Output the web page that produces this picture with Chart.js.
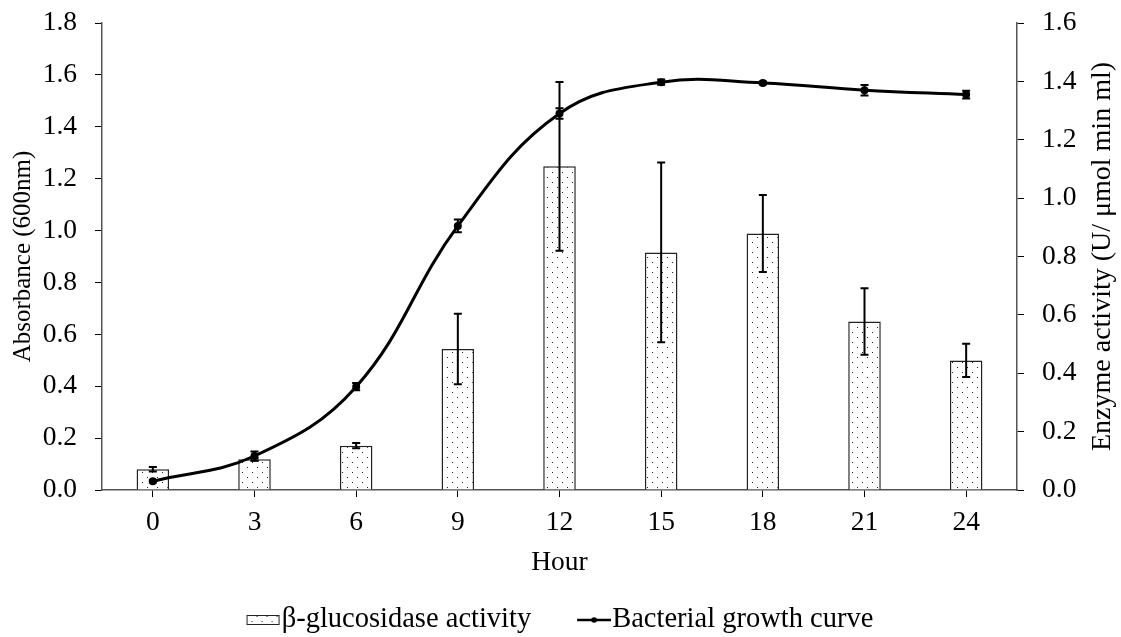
<!DOCTYPE html>
<html>
<head>
<meta charset="utf-8">
<script src="https://cdn.jsdelivr.net/npm/chart.js@4/dist/chart.umd.min.js"></script>
<style>body{margin:0;background:#fff}</style>
</head>
<body>
<canvas id="myChart" width="1121" height="637"></canvas>
<script>
// values
var hours = ['0', '3', '6', '9', '12', '15', '18', '21', '24'];
var enzymeActivity = [0.071, 0.105, 0.152, 0.483, 1.109, 0.814, 0.879, 0.577, 0.444];
var enzymeError = [0.008, 0.005, 0.009, 0.121, 0.289, 0.308, 0.132, 0.114, 0.057];
var absorbance = [0.034, 0.131, 0.398, 1.018, 1.451, 1.572, 1.569, 1.541, 1.524];
var absorbanceError = [0.005, 0.017, 0.014, 0.025, 0.02, 0.01, 0.006, 0.02, 0.015];
var leftTicks = [0, 0.2, 0.4, 0.6, 0.8, 1.0, 1.2, 1.4, 1.6, 1.8];
var rightTicks = [0, 0.2, 0.4, 0.6, 0.8, 1.0, 1.2, 1.4, 1.6];

var FONT = 'Liberation Serif';
Chart.defaults.font.family = FONT;
Chart.defaults.font.size = 27.5;
Chart.defaults.color = '#000';

// dotted fill like the excel pattern
function dotTile() {
    var c = document.createElement('canvas');
    c.width = 10; c.height = 10;
    var g = c.getContext('2d');
    g.fillStyle = '#fff';
    g.fillRect(0, 0, 10, 10);
    g.fillStyle = '#222';
    g.fillRect(2, 2, 1, 1);
    g.fillRect(7, 7, 1, 1);
    return c;
}
var tile = dotTile();
var dots = tile.getContext('2d').createPattern(tile, 'repeat');

// legend symbols: drawn wider than the legend box so the symbol ends where its text starts
function barIcon() {
    var c = document.createElement('canvas');
    c.width = 46; c.height = 12;
    var g = c.getContext('2d');
    g.fillStyle = g.createPattern(tile, 'repeat');
    g.fillRect(12, 1, 33, 10);
    g.strokeStyle = '#222';
    g.lineWidth = 1;
    g.strokeRect(12.5, 1.5, 32, 9);
    return c;
}
function lineIcon() {
    var c = document.createElement('canvas');
    c.width = 46; c.height = 12;
    var g = c.getContext('2d');
    g.strokeStyle = '#000';
    g.lineWidth = 2.5;
    g.beginPath(); g.moveTo(12, 6); g.lineTo(46, 6); g.stroke();
    g.fillStyle = '#000';
    g.beginPath(); g.arc(29, 6, 2.8, 0, Math.PI * 2); g.fill();
    return c;
}

var errors = [enzymeError, absorbanceError];

var errorBars = {
    id: 'errorBars',
    afterDatasetsDraw: function (chart) {
        var ctx = chart.ctx;
        chart.data.datasets.forEach(function (ds, i) {
            var meta = chart.getDatasetMeta(i);
            var scale = chart.scales[ds.yAxisID];
            ctx.save();
            ctx.strokeStyle = '#000';
            ctx.lineWidth = 2;
            meta.data.forEach(function (el, j) {
                var v = ds.data[j], e = errors[i][j];
                var top = scale.getPixelForValue(v + e);
                var bot = scale.getPixelForValue(v - e);
                var x = el.x;
                ctx.beginPath();
                ctx.moveTo(x, top); ctx.lineTo(x, bot);
                ctx.moveTo(x - 4, top); ctx.lineTo(x + 4, top);
                ctx.moveTo(x - 4, bot); ctx.lineTo(x + 4, bot);
                ctx.stroke();
            });
            ctx.restore();
        });
    }
};

// right title reads bottom to top, chart.js would turn it the other way
var rightTitle = {
    id: 'rightTitle',
    afterDraw: function (chart) {
        var s = chart.scales.y1;
        var ctx = chart.ctx;
        ctx.save();
        ctx.translate(s.right - 18, (s.top + s.bottom) / 2);
        ctx.rotate(-Math.PI / 2);
        ctx.font = '28px "' + FONT + '"';
        ctx.fillStyle = '#000';
        ctx.textAlign = 'center';
        ctx.textBaseline = 'middle';
        ctx.fillText('Enzyme activity (U/ \u03bcmol min ml)', 0, 0);
        ctx.restore();
    }
};

var barData = {
    labels: hours,
    datasets: [
        {
            type: 'bar',
            label: '\u03b2-glucosidase activity',
            data: enzymeActivity,
            yAxisID: 'y1',
            backgroundColor: dots,
            borderColor: '#222',
            borderWidth: 1.5,
            barPercentage: 0.4,
            categoryPercentage: 0.8,
            order: 2
        },
        {
            type: 'line',
            label: 'Bacterial growth curve',
            data: absorbance,
            yAxisID: 'y',
            borderColor: '#000',
            backgroundColor: '#000',
            borderWidth: 3,
            tension: 0.4,
            pointRadius: 2.5,
            pointBackgroundColor: '#000',
            order: 1
        }
    ]
};

function axisTicks(values) {
    return function (scale) {
        scale.ticks = values.map(function (v) { return {value: v}; });
    };
}

function fixWidth(w) {
    return function (s) {
        s.width = w;
        s.paddingTop = 0;
        s.paddingBottom = 0;
    };
}

var ctx = document.getElementById('myChart');
window.myChart = new Chart(ctx, {
    data: barData,
    plugins: [errorBars, rightTitle],
    options: {
        responsive: false,
        animation: false,
        layout: {padding: {top: 23, left: 0, right: 0, bottom: 0}},
        plugins: {
            tooltip: {enabled: false},
            legend: {
                position: 'bottom',
                maxHeight: 78.25,
                labels: {
                    usePointStyle: true,
                    pointStyleWidth: 19.75,
                    padding: 47,
                    color: '#000',
                    font: {size: 28.5},
                    generateLabels: function () {
                        return [
                            {text: '\u03b2-glucosidase activity', pointStyle: barIcon(), datasetIndex: 0, fontColor: '#000', lineWidth: 0, hidden: false},
                            {text: 'Bacterial growth curve', pointStyle: lineIcon(), datasetIndex: 1, fontColor: '#000', lineWidth: 0, hidden: false}
                        ];
                    }
                }
            }
        },
        scales: {
            x: {
                offset: true,
                grid: {offset: false, drawOnChartArea: false, color: '#000', tickLength: 7},
                border: {color: '#555', width: 1.5},
                ticks: {padding: 9.5, maxRotation: 0},
                title: {display: true, text: 'Hour', font: {size: 27.5}, padding: {top: 0, bottom: -20.75}},
                afterFit: function (s) { s.height = 68.75; }
            },
            y: {
                position: 'left',
                min: 0,
                max: 1.8,
                afterBuildTicks: axisTicks(leftTicks),
                grid: {drawOnChartArea: false, color: '#000', tickLength: 7},
                border: {color: '#555', width: 1.5},
                ticks: {padding: 18, callback: function (v) { return v.toFixed(1); }},
                title: {display: true, text: 'Absorbance (600nm)', font: {size: 25}, padding: {top: 8, bottom: 0}},
                afterFit: fixWidth(102)
            },
            y1: {
                position: 'right',
                min: 0,
                max: 1.6,
                afterBuildTicks: axisTicks(rightTicks),
                grid: {drawOnChartArea: false, color: '#000', tickLength: 7},
                border: {color: '#555', width: 1.5},
                ticks: {padding: 18, callback: function (v) { return v.toFixed(1); }},
                afterFit: fixWidth(104)
            }
        }
    }
});
</script>
</body>
</html>
